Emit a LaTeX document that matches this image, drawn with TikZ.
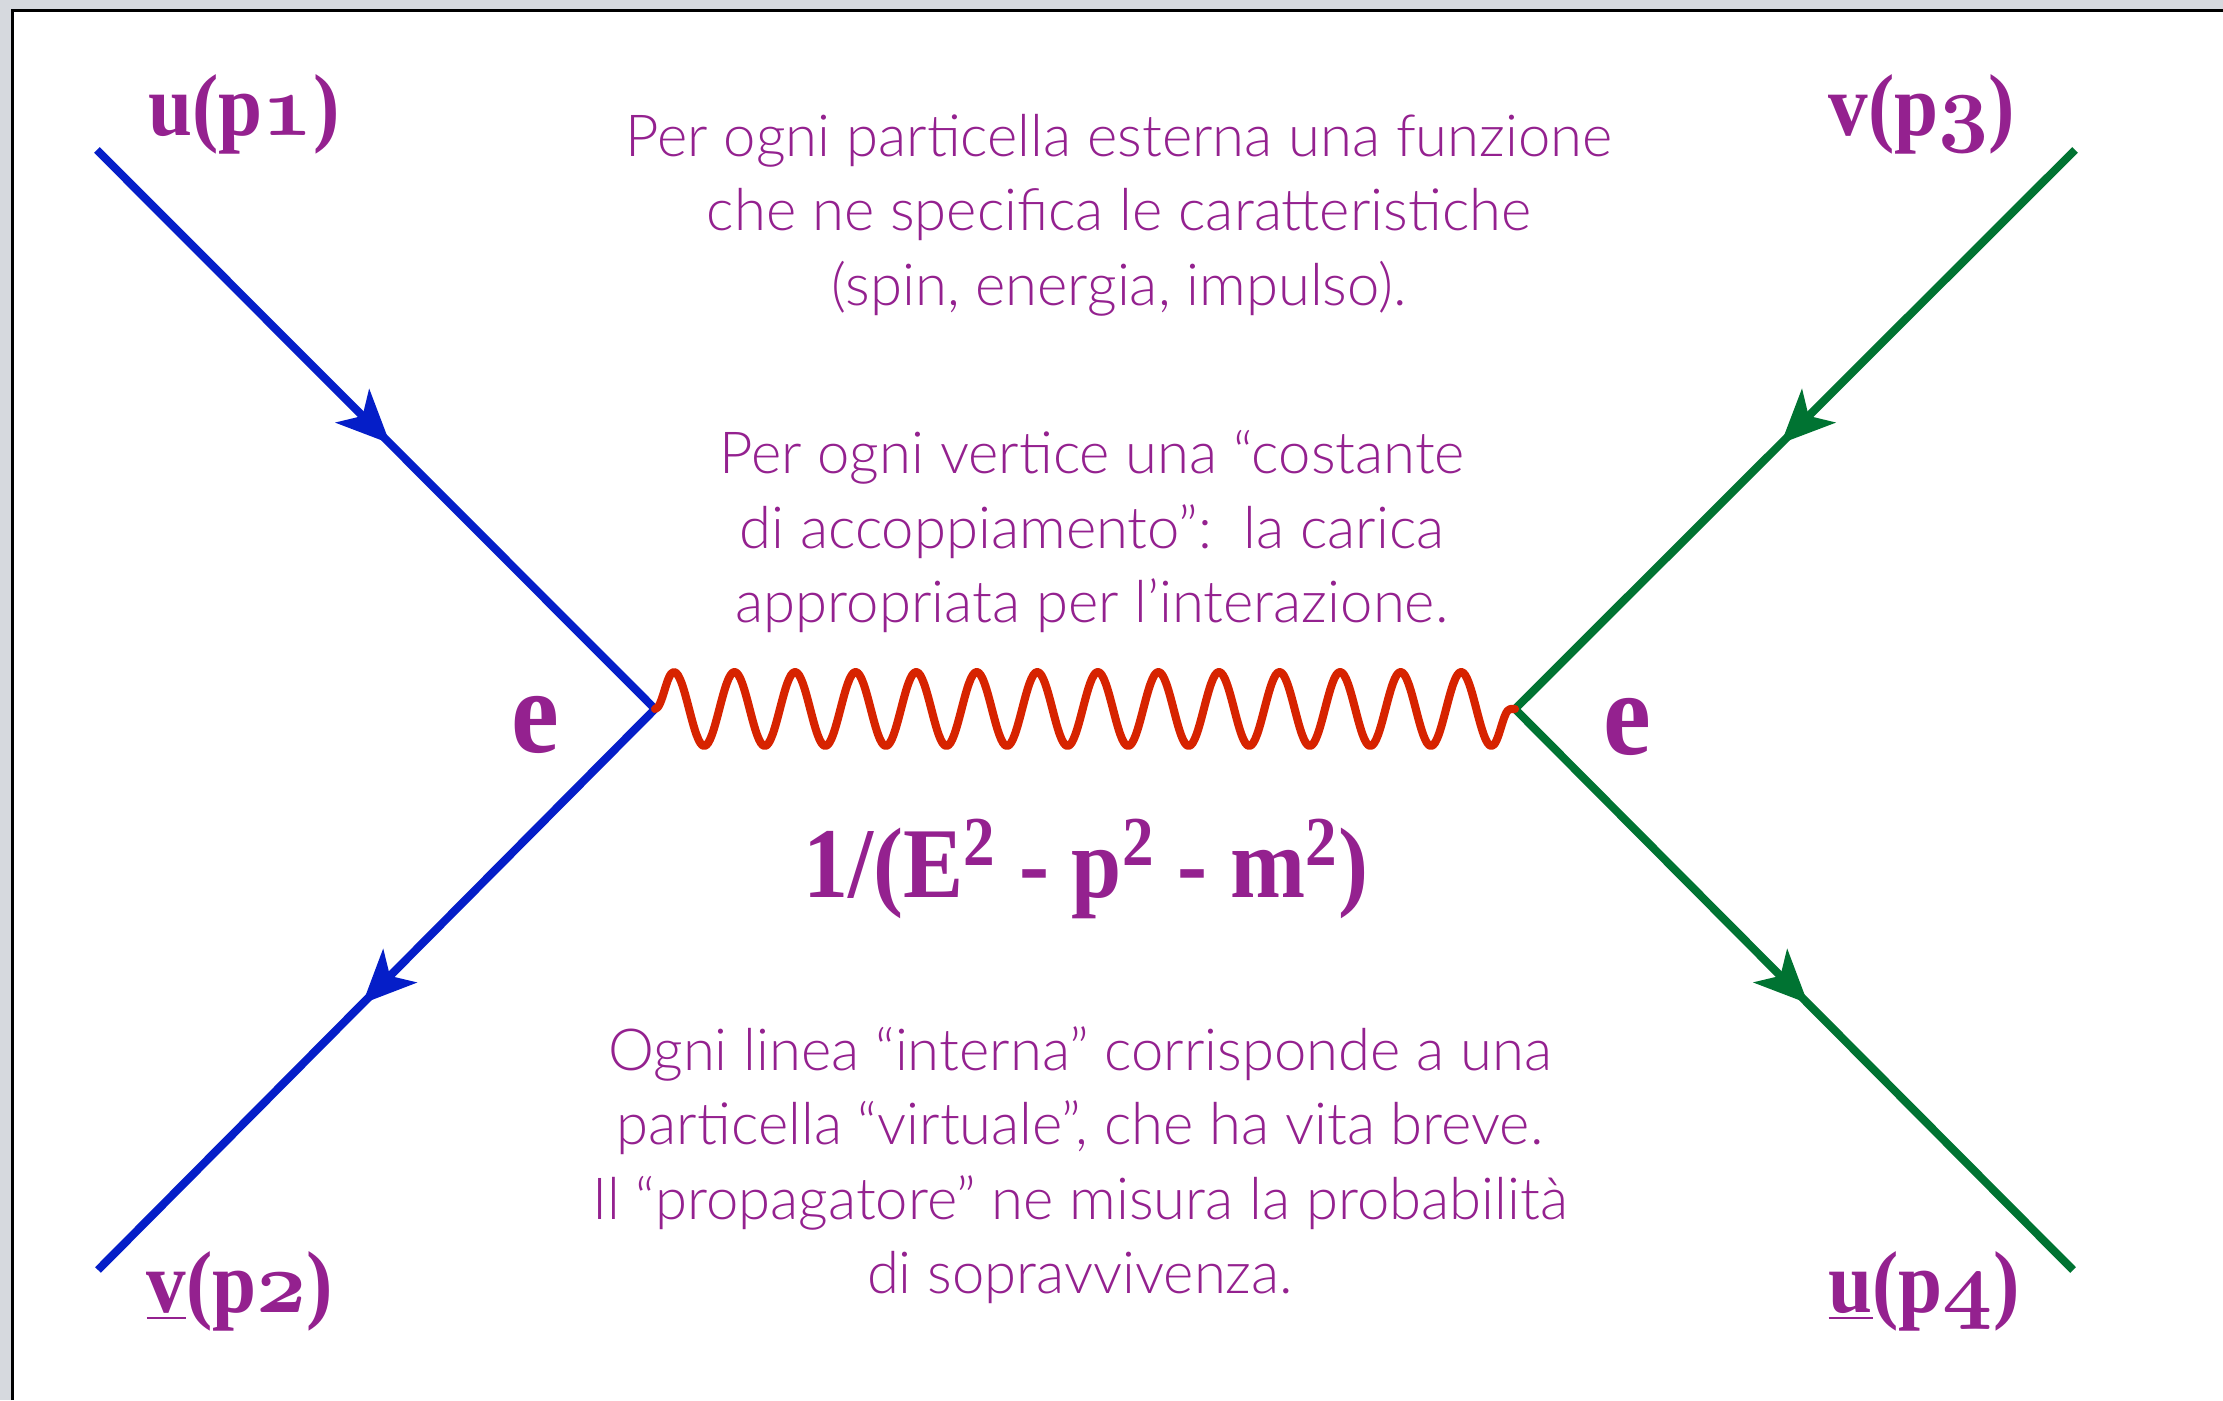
\documentclass[tikz,border=0pt]{standalone}
\usepackage{fontspec}
\usetikzlibrary{arrows.meta,decorations.pathmorphing,decorations.markings}

\newfontfamily\bodyfont{Lato Light}
\newfontfamily\labelfont[FakeStretch=0.9]{Liberation Serif}
\newcommand\osnum[1]{{\usefont{OML}{cmm}{b}{it}#1}}

\definecolor{labelpurple}{RGB}{148,33,143}
\definecolor{lineblue}{RGB}{5,30,200}
\definecolor{linegreen}{RGB}{0,115,50}
\definecolor{wavered}{RGB}{215,35,0}
\definecolor{framegray}{RGB}{214,217,222}

\begin{document}
\begin{tikzpicture}[>={Stealth[length=5.3mm,width=4.7mm,inset=1.4mm]},
  fermion/.style={line width=2.3pt, postaction={decorate},
    decoration={markings,
      mark=at position 0.2625 with {\arrow{>}},
      mark=at position 0.7625 with {\arrow{>}}}},
  photon/.style={draw=wavered, line width=2.3pt, line join=round, line cap=round,
    decorate, decoration={snake, amplitude=3.7mm, segment length=6.056mm}},
  lbl/.style={text=labelpurple, font=\labelfont\bfseries\fontsize{25}{30}\selectfont},
  vlbl/.style={text=labelpurple, font=\labelfont\bfseries\fontsize{34}{40}\selectfont},
  note/.style={text=labelpurple, align=center,
    font=\bodyfont\fontsize{16.5}{21.2}\selectfont}]

\useasboundingbox (0,0) rectangle (22.23,14);

% Frame
\fill[framegray] (0,0) rectangle (22.23,14);
\fill[white] (0.125,0) rectangle (22.23,13.89);
\draw[line width=0.03cm] (0.125,0) -- (0.125,13.89) -- (22.23,13.89);

% Vertices and external points
\coordinate (vl) at (6.55,6.91);
\coordinate (vr) at (15.15,6.91);
\coordinate (p1) at (0.97,12.50);
\coordinate (p2) at (0.98,1.30);
\coordinate (p3) at (20.75,12.50);
\coordinate (p4) at (20.73,1.30);

% Fermion lines
\draw[fermion, lineblue] (p1) -- (vl) -- (p2);
\draw[fermion, linegreen] (p3) -- (vr) -- (p4);

% Photon
\draw[photon] (vl) -- (vr);

% Spinor labels
\node[lbl] (up1) at (2.44,12.86) {u(p\osnum{1})};
\node[lbl] (vp2) at (2.40,1.09) {\underline{v}(p\osnum{2})};
\node[lbl] (vp3) at (19.22,12.86) {v(p\osnum{3})};
\node[lbl] (up4) at (19.24,1.09) {\underline{u}(p\osnum{4})};

% Couplings
\node[vlbl] (el) at (5.35,6.75) {e};
\node[vlbl] (er) at (16.27,6.73) {e};

% Propagator
\node[text=labelpurple, font=\labelfont\bfseries\fontsize{28.5}{33}\selectfont] (prop) at (10.86,5.31)
  {1/(E\textsuperscript{2} - p\textsuperscript{2} - m\textsuperscript{2})};

% Comments
\node[note] (ext) at (11.19,11.85) {Per ogni particella esterna una funzione\\
  che ne specifica le caratteristiche\\(spin, energia, impulso).};
\node[note] (vtx) at (10.92,8.68) {Per ogni vertice una “costante\\
  di accoppiamento”:\ \ la carica\\appropriata per l’interazione.};
\node[note] (int) at (10.80,2.35) {Ogni linea “interna” corrisponde a una\\
  particella “virtuale”, che ha vita breve.\\
  Il “propagatore” ne misura la probabilità\\di sopravvivenza.};

\end{tikzpicture}
\end{document}
